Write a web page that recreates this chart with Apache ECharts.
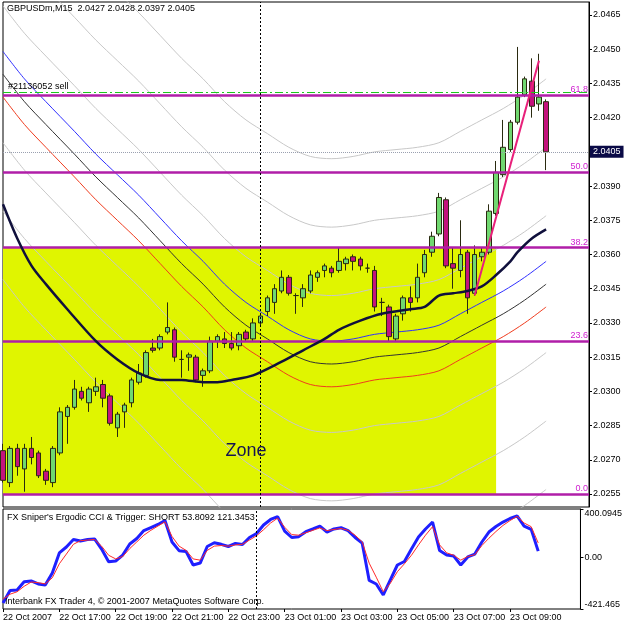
<!DOCTYPE html>
<html>
<head>
<meta charset="utf-8">
<script src="https://cdn.jsdelivr.net/npm/echarts@6/dist/echarts.min.js"></script>
<style>
html, body { margin: 0; padding: 0; background: #fff; }
#chart { width: 625px; height: 625px; }
</style>
</head>
<body>
<div id="chart"></div>
<script>
// GBPUSDm M15, bars from 22 Oct 15:00 to 23 Oct 10:00
const opens = [2.0274, 2.0260, 2.0275, 2.0266, 2.0275, 2.0273, 2.0265, 2.0260, 2.0273, 2.0289,
  2.0293, 2.0300, 2.0295, 2.0300, 2.0303, 2.0298, 2.0284, 2.0291, 2.0295, 2.0304,
  2.0307, 2.0319, 2.0319, 2.0326, 2.0327, 2.0314, 2.0315, 2.0315, 2.0307, 2.0309,
  2.0322, 2.0323, 2.0321, 2.0320, 2.0326, 2.0323, 2.0330, 2.0335, 2.0339, 2.0344,
  2.0350, 2.0342, 2.0341, 2.0344, 2.0350, 2.0353, 2.0354, 2.0353, 2.0356, 2.0359,
  2.0358, 2.0354, 2.0353, 2.0339, 2.0337, 2.0323, 2.0334, 2.0341, 2.0341, 2.0352,
  2.0361, 2.0369, 2.0384, 2.0356, 2.0353, 2.0361, 2.0343, 2.0359, 2.0361, 2.0378,
  2.0395, 2.0406, 2.0418, 2.0430, 2.0436, 2.0426, 2.0427];
const closes = [2.0261, 2.0275, 2.0267, 2.0275, 2.0271, 2.0263, 2.0261, 2.0275, 2.0291, 2.0293,
  2.0301, 2.0297, 2.0301, 2.0302, 2.0297, 2.0286, 2.0290, 2.0294, 2.0305, 2.0308,
  2.0317, 2.0318, 2.0324, 2.0328, 2.0315, 2.0314, 2.0316, 2.0305, 2.0309, 2.0322,
  2.0324, 2.0321, 2.0319, 2.0325, 2.0323, 2.0330, 2.0333, 2.0341, 2.0345, 2.0350,
  2.0343, 2.0342, 2.0345, 2.0351, 2.0352, 2.0355, 2.0352, 2.0357, 2.0358, 2.0357,
  2.0355, 2.0354, 2.0337, 2.0339, 2.0324, 2.0333, 2.0341, 2.0339, 2.0350, 2.0360,
  2.0368, 2.0385, 2.0355, 2.0354, 2.0360, 2.0341, 2.0360, 2.0361, 2.0379, 2.0396,
  2.0407, 2.0418, 2.0429, 2.0437, 2.0425, 2.0429, 2.0405];
const lows = [2.0260, 2.0258, 2.0263, 2.0256, 2.0268, 2.0262, 2.0259, 2.0258, 2.0272, 2.0277,
  2.0292, 2.0296, 2.0291, 2.0298, 2.0293, 2.0285, 2.0280, 2.0284, 2.0293, 2.0303,
  2.0306, 2.0317, 2.0318, 2.0325, 2.0313, 2.0306, 2.0309, 2.0304, 2.0302, 2.0308,
  2.0319, 2.0319, 2.0318, 2.0318, 2.0322, 2.0322, 2.0329, 2.0333, 2.0334, 2.0343,
  2.0342, 2.0334, 2.0337, 2.0343, 2.0348, 2.0350, 2.0350, 2.0352, 2.0353, 2.0353,
  2.0353, 2.0352, 2.0335, 2.0333, 2.0322, 2.0322, 2.0331, 2.0335, 2.0339, 2.0350,
  2.0359, 2.0368, 2.0354, 2.0345, 2.0350, 2.0334, 2.0342, 2.0357, 2.0360, 2.0377,
  2.0394, 2.0405, 2.0417, 2.0429, 2.0420, 2.0423, 2.0397];
const highs = [2.0277, 2.0276, 2.0277, 2.0277, 2.0280, 2.0274, 2.0266, 2.0276, 2.0293, 2.0294,
  2.0305, 2.0302, 2.0302, 2.0306, 2.0305, 2.0299, 2.0291, 2.0295, 2.0306, 2.0312,
  2.0318, 2.0323, 2.0325, 2.0339, 2.0328, 2.0318, 2.0317, 2.0316, 2.0310, 2.0324,
  2.0325, 2.0326, 2.0326, 2.0326, 2.0327, 2.0332, 2.0334, 2.0342, 2.0347, 2.0353,
  2.0351, 2.0343, 2.0347, 2.0353, 2.0353, 2.0356, 2.0355, 2.0363, 2.0359, 2.0360,
  2.0359, 2.0356, 2.0355, 2.0341, 2.0338, 2.0334, 2.0342, 2.0346, 2.0356, 2.0362,
  2.0370, 2.0387, 2.0385, 2.0363, 2.0375, 2.0362, 2.0364, 2.0363, 2.0382, 2.0401,
  2.0419, 2.0419, 2.0451, 2.0438, 2.0446, 2.0448, 2.0428];

// thick moving average, [bar, price]
const maThick = [[0, 2.0382], [2, 2.0367], [4, 2.0355], [6, 2.0347], [9, 2.0336], [13, 2.0322],
  [16, 2.0314], [19, 2.0308], [22, 2.0305], [25, 2.0305], [28, 2.0304], [30, 2.0304],
  [32, 2.0305], [35, 2.0307], [39, 2.0313], [42, 2.0318], [45, 2.0323], [47, 2.0327],
  [50, 2.0331], [53, 2.0334], [57, 2.0336], [59, 2.0337], [61, 2.0342], [63, 2.0343],
  [65, 2.0344], [67, 2.0346], [69, 2.0351], [71, 2.0357], [72, 2.0361], [74, 2.0367], [76, 2.0371]];

// envelopes: base MA and band offsets
const envBase = [[0, 2.0439], [3, 2.0427], [6, 2.0417], [10, 2.0404], [13, 2.0394], [16, 2.0385],
  [19, 2.0376], [22, 2.0366], [25, 2.0356], [28, 2.0347], [31, 2.0337], [34, 2.0329],
  [37, 2.0323], [40, 2.0317], [43, 2.0313], [46, 2.0312], [49, 2.0313], [52, 2.0315],
  [55, 2.0316], [58, 2.0317], [61, 2.0319], [64, 2.0324], [67, 2.0329], [70, 2.0334],
  [73, 2.0340], [76, 2.0347]];
const envOffsets = [0.001, 0.003, 0.006, 0.009];

// Ergodic CCI & trigger
const cci = [-372, -269, -265, -197, -191, -216, -224, -126, 39, 88,
  150, 137, 150, 154, 71, -33, -27, 22, 113, 158,
  223, 248, 273, 306, 129, 58, 51, -60, -44, 92,
  123, 110, 92, 117, 108, 166, 199, 269, 314, 338,
  219, 166, 173, 214, 236, 260, 211, 236, 246, 222,
  166, 121, -187, -216, -306, -183, -60, -31, 71, 170,
  236, 293, 59, 22, 14, -60, 6, 30, 129, 211,
  256, 293, 322, 343, 260, 233, 53.8092];
const trigger = [-340, -300, -280, -235, -200, -205, -215, -165, -50, 30,
  110, 140, 145, 150, 95, 20, -10, 10, 75, 130,
  185, 225, 260, 295, 175, 95, 60, -10, -20, 60,
  95, 100, 95, 105, 110, 145, 180, 230, 285, 325,
  250, 190, 185, 205, 225, 245, 222, 232, 240, 225,
  185, 130, -45, -160, -280, -210, -115, -50, 20, 105,
  185, 255, 105, 40, 20, -20, 10, 25, 100, 160,
  215, 265, 305, 340, 285, 255, 121.3453];

const fibPrices = [2.0255, 2.0322, 2.0363, 2.0396, 2.0430];
const fibNames = ['0.0', '23.6', '38.2', '50.0', '61.8'];
const orderPrice = 2.0431;
const bidPrice = 2.0405;
const zoneBars = [0, 69];
const zonePrices = [2.0255, 2.0363];
const zoneText = [34, 2.0274];
const trendLine = [[66, 2.0342], [75, 2.0445]];
const daySeparator = 36;

const slotCount = 83;
const tickBars = [0, 8, 16, 24, 32, 40, 48, 56, 64, 72];
const tickLabels = ['22 Oct 2007', '22 Oct 17:00', '22 Oct 19:00', '22 Oct 21:00', '22 Oct 23:00',
  '23 Oct 01:00', '23 Oct 03:00', '23 Oct 05:00', '23 Oct 07:00', '23 Oct 09:00'];
const priceTicks = [2.0255, 2.0270, 2.0285, 2.0300, 2.0315, 2.0330, 2.0345, 2.0360,
  2.0375, 2.0390, 2.0405, 2.0420, 2.0435, 2.0450, 2.0465];
const cciTicks = [-421.465, 0, 400.0945];

const FONT = 'Liberation Sans';
const slots = [];
for (let i = 0; i < slotCount; i++) slots.push(String(i));
const candleData = opens.map((o, i) => [o, closes[i], lows[i], highs[i]]);

function lineS(data, color, width, z, grid) {
  return {
    type: 'line', data: data, xAxisIndex: grid || 0, yAxisIndex: grid || 0,
    symbol: 'none', smooth: 0.3, z: z, silent: true,
    lineStyle: { color: color, width: width }
  };
}

const envSeries = [];
envOffsets.slice().reverse().forEach(off => {
  const up = off === 0.001 ? '#3030ff' : '#c8c8c8';
  const dn = off === 0.001 ? '#f03c1e' : '#c8c8c8';
  envSeries.push(lineS(envBase.map(p => [p[0], +(p[1] + off).toFixed(5)]), up, 1, 3));
  envSeries.push(lineS(envBase.map(p => [p[0], +(p[1] - off).toFixed(5)]), dn, 1, 3));
});
envSeries.push(lineS(envBase, '#333333', 1, 3));

const txt = { fontSize: 9, fontWeight: 'normal', color: '#000', fontFamily: FONT };

const option = {
  animation: false,
  backgroundColor: '#fff',
  textStyle: { fontFamily: FONT },
  title: [
    { text: 'GBPUSDm,M15  2.0427 2.0428 2.0397 2.0405', left: 7, top: 4, padding: 0, textStyle: txt },
    { text: "FX Sniper's Ergodic CCI & Trigger: SHORT 53.8092 121.3453", left: 7, top: 513, padding: 0, textStyle: txt },
    { text: 'Interbank FX Trader 4, © 2001-2007 MetaQuotes Software Corp.', left: 5, top: 597, padding: 0, textStyle: txt }
  ],
  grid: [
    { left: 3, top: 2, width: 586, height: 505, show: true, borderColor: '#000', borderWidth: 1, backgroundColor: '#fff' },
    { left: 3, top: 509, width: 586, height: 100, show: true, borderColor: '#000', borderWidth: 1, backgroundColor: '#fff' }
  ],
  xAxis: [
    { type: 'category', gridIndex: 0, data: slots, boundaryGap: false,
      axisLine: { show: false, onZero: false }, axisTick: { show: false }, axisLabel: { show: false }, splitLine: { show: false } },
    { type: 'category', gridIndex: 1, data: slots, boundaryGap: false, position: 'bottom',
      axisLine: { show: false, onZero: false },
      axisTick: { show: true, length: 3, lineStyle: { color: '#000' }, interval: i => tickBars.includes(i) },
      axisLabel: { show: true, interval: i => tickBars.includes(i), align: 'left', margin: 4,
        fontSize: 9, color: '#000', fontFamily: FONT,
        formatter: (v) => tickLabels[tickBars.indexOf(Number(v))] },
      splitLine: { show: false } }
  ],
  yAxis: [
    { type: 'value', gridIndex: 0, position: 'right', min: 2.02493, max: 2.04707,
      axisLine: { show: true, lineStyle: { color: '#000' } },
      axisTick: { show: true, length: 3, customValues: priceTicks, lineStyle: { color: '#000' } },
      axisLabel: { show: true, customValues: priceTicks, margin: 4, fontSize: 9, color: '#000', fontFamily: FONT,
        formatter: v => v.toFixed(4) },
      splitLine: { show: false } },
    { type: 'value', gridIndex: 1, position: 'right', min: -421.465, max: 400.0945,
      axisLine: { show: true, lineStyle: { color: '#000' } },
      axisTick: { show: true, length: 3, customValues: cciTicks, lineStyle: { color: '#000' } },
      axisLabel: { show: true, customValues: cciTicks, margin: 4, fontSize: 9, color: '#000', fontFamily: FONT,
        verticalAlignMinLabel: 'bottom', verticalAlignMaxLabel: 'top',
        formatter: v => (v === 0 ? '0.00' : String(v)) },
      splitLine: { show: false } }
  ],
  series: [
    {
      // yellow zone rectangle + text
      type: 'line', data: [], xAxisIndex: 0, yAxisIndex: 0, z: 1, silent: true,
      markArea: {
        silent: true,
        itemStyle: { color: '#e0f500' },
        data: [[{ xAxis: zoneBars[0], yAxis: zonePrices[0] }, { xAxis: zoneBars[1], yAxis: zonePrices[1] }]]
      },
      markPoint: {
        silent: true, symbol: 'circle', symbolSize: 1,
        itemStyle: { color: 'rgba(0,0,0,0)' },
        label: { show: true, position: 'inside', formatter: 'Zone', fontSize: 18, color: '#141452', fontFamily: FONT },
        data: [{ coord: zoneText }]
      }
    },
    ...envSeries,
    {
      type: 'candlestick', data: candleData, xAxisIndex: 0, yAxisIndex: 0, z: 4,
      barWidth: 5, clip: true, silent: true,
      itemStyle: { color: '#70d870', color0: '#c4137d', borderColor: '#2a2a10', borderColor0: '#2a2a10', borderWidth: 1 }
    },
    lineS(maThick, '#10103c', 2.5, 5),
    {
      // fibo levels, order line, bid line, day separator
      type: 'line', data: [], xAxisIndex: 0, yAxisIndex: 0, z: 6, silent: true,
      markLine: {
        symbol: 'none', silent: true, precision: 6,
        data: [
          ...fibPrices.map((p, i) => ({
            yAxis: p,
            lineStyle: { color: '#b01ea8', width: 2.5, type: 'solid' },
            label: { show: true, position: 'insideEndTop', distance: 1, formatter: fibNames[i],
              color: '#d020d0', fontSize: 9, fontFamily: FONT }
          })),
          { yAxis: orderPrice,
            lineStyle: { color: '#1ec81e', width: 1, type: [8, 3, 2, 3] },
            label: { show: true, position: 'insideStartTop', distance: [5, 2], formatter: '#21136052 sell',
              color: '#000', fontSize: 9, fontFamily: FONT } },
          { yAxis: bidPrice,
            lineStyle: { color: '#9aa0b0', width: 1, type: [1, 1] },
            label: { show: true, position: 'end', distance: 1, formatter: '2.0405', color: '#fff',
              backgroundColor: '#0a0a46', padding: [2, 3, 1, 3], fontSize: 9, fontFamily: FONT } },
          { xAxis: daySeparator, lineStyle: { color: '#000', type: [2, 2], width: 1 }, label: { show: false } }
        ]
      }
    },
    {
      type: 'line', data: trendLine, xAxisIndex: 0, yAxisIndex: 0, z: 7, symbol: 'none', silent: true,
      lineStyle: { color: '#e8207a', width: 2 }
    },
    Object.assign(lineS(cci.map((v, i) => [i, v]), '#1f1fff', 3, 3, 1), { smooth: false }),
    Object.assign(lineS(trigger.map((v, i) => [i, v]), '#ff2a2a', 1, 4, 1), { smooth: false }),
    {
      type: 'line', data: [], xAxisIndex: 1, yAxisIndex: 1, z: 5, silent: true,
      markLine: {
        symbol: 'none', silent: true, precision: 6, label: { show: false },
        lineStyle: { color: '#000', type: [2, 2], width: 1 },
        data: [{ xAxis: daySeparator }]
      }
    }
  ]
};

const chart = echarts.init(document.getElementById('chart'));
chart.setOption(option);
</script>
</body>
</html>
